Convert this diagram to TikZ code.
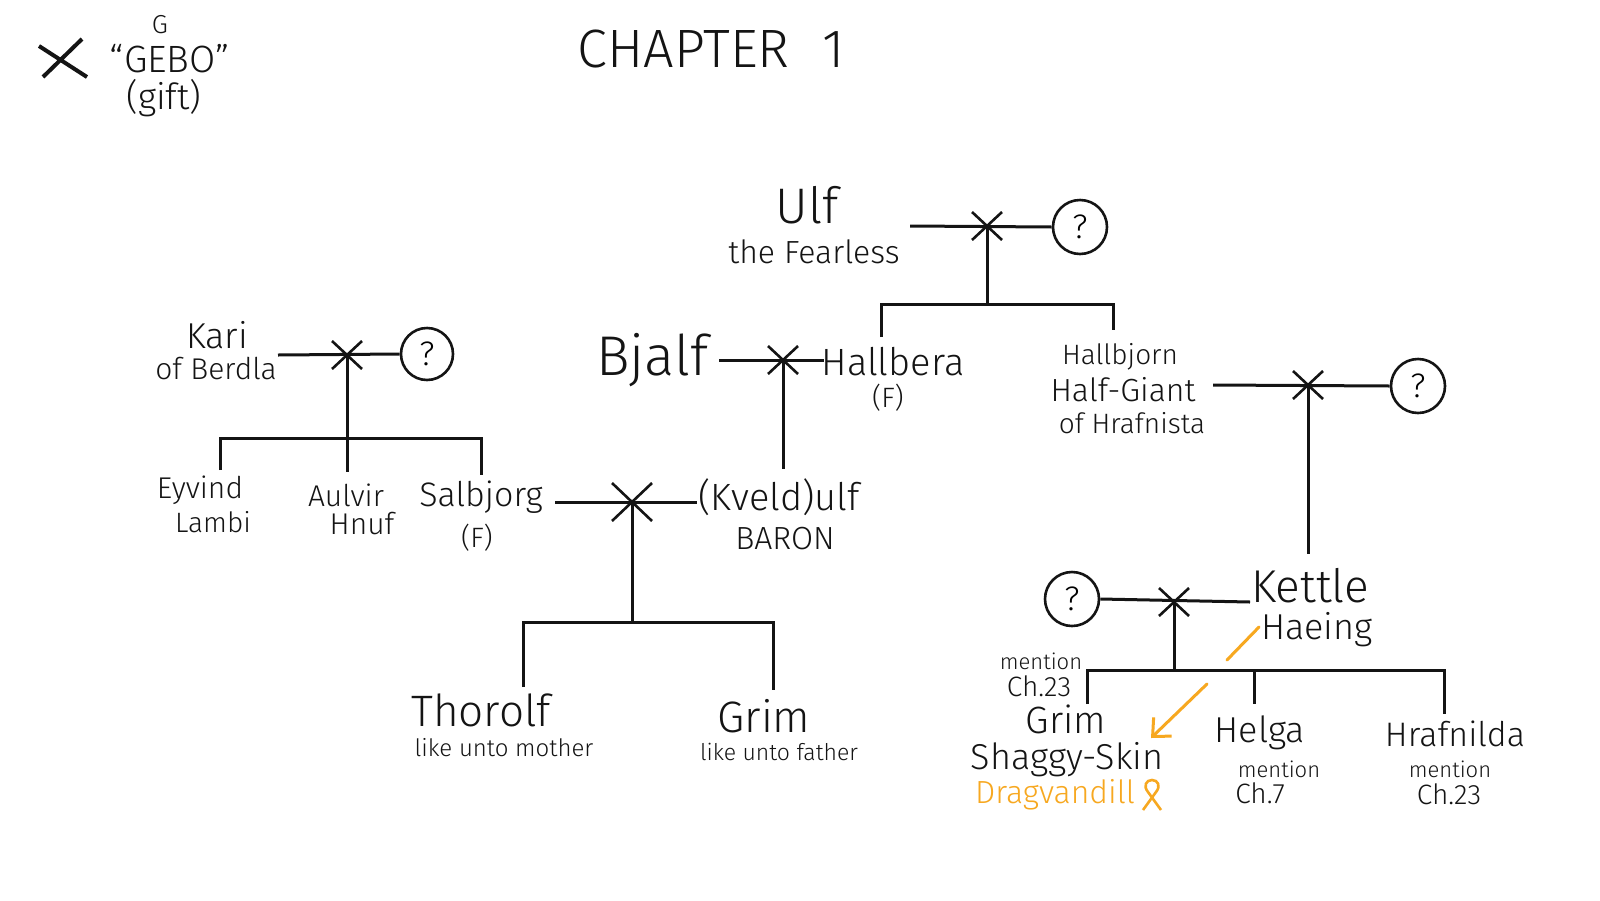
\documentclass[tikz,border=0pt]{standalone}
\usepackage{fontspec}
\setmainfont{Fira Sans Light}
\usetikzlibrary{arrows.meta}
\definecolor{ink}{RGB}{20,20,20}
\definecolor{gold}{RGB}{247,168,32}
\newcommand\myfs[1]{\fontsize{#1}{#1}\selectfont}
\begin{document}
\begin{tikzpicture}[x=0.5pt,y=-0.5pt,
  line/.style={ink,line width=1.5pt},
  lbl/.style={inner sep=0pt,anchor=center,text=ink},
  unknown/.style={circle,draw=ink,line width=1.3pt,minimum size=27pt,inner sep=0pt,font=\myfs{17}},
  gebo/.style={ink,line width=1.3pt},
  xmark/.pic={\draw[gebo] (-15,-14)--(15,14) (-15,14)--(15,-14);},
  bigxmark/.pic={\draw[gebo] (-20,-19)--(20,19) (-20,19)--(20,-19);}]
\useasboundingbox (0,0) rectangle (1600,900);
\fill[white] (0,0) rectangle (1600,900);

% legend
\draw[ink,line width=2pt] (39,46)--(87,77) (82,39)--(43,77);
\node[lbl,font=\myfs{13}] (runeG) at (160,25) {G};
\node[lbl,font=\myfs{19}] (runeName) at (170,59) {“GEBO”};
\node[lbl,font=\myfs{18}] (runeGift) at (164,98) {(gift)};

% title
\node[lbl,font=\myfs{27}] (title) at (711,49) {CHAPTER\hspace{0.6em}1};

% Ulf family
\node[lbl,font=\myfs{25}] (ulf) at (807,205) {Ulf};
\node[lbl,font=\myfs{16}] (ulfep) at (814,252) {the Fearless};
\node[unknown] (q1) at (1080,227) {?};
\coordinate (u1) at (910,226);
\coordinate (mx1) at (987,226);
\draw[line] (u1) -- (q1.west);
\pic at (mx1) {xmark};
\coordinate (b1) at (987,304);
\draw[line] (mx1) -- (b1);
\coordinate (b1l) at (881,304); \coordinate (b1r) at (1113,304);
\coordinate (d1l) at (881,337); \coordinate (d1r) at (1113,330);
\draw[line] (d1l) -- (b1l) -- (b1r) -- (d1r);

% Bjalf + Hallbera
\node[lbl,font=\myfs{28}] (bjalf) at (652,360) {Bjalf};
\node[lbl,font=\myfs{19}] (hallbera) at (893,362) {Hallbera};
\node[lbl,font=\myfs{14}] (hallberaF) at (888,398) {(F)};
\coordinate (bj1) at (719,360); \coordinate (bj2) at (824,360);
\coordinate (mx2) at (783,360);
\draw[line] (bj1) -- (bj2);
\pic at (mx2) {xmark};
\coordinate (d2) at (783,469);
\draw[line] (mx2) -- (d2);

% Hallbjorn
\node[lbl,font=\myfs{14}] (hallbjorn) at (1120,357) {Hallbjorn};
\node[lbl,font=\myfs{16}] (halfgiant) at (1123,390) {Half-Giant};
\node[lbl,font=\myfs{14}] (hrafnista) at (1132,423) {of Hrafnista};
\node[unknown] (q2) at (1418,386) {?};
\coordinate (hb1) at (1213,385);
\coordinate (mx3) at (1308,385);
\draw[line] (hb1) -- (q2.west);
\pic at (mx3) {xmark};
\coordinate (d3) at (1308,554);
\draw[line] (mx3) -- (d3);

% Kari
\node[lbl,font=\myfs{18}] (kari) at (217,335) {Kari};
\node[lbl,font=\myfs{15}] (berdla) at (216,369) {of Berdla};
\node[unknown,minimum size=26pt] (q3) at (427,354) {?};
\coordinate (k1) at (278,355);
\coordinate (mx4) at (347,355);
\draw[line] (k1) -- (q3.west);
\pic at (mx4) {xmark};
\coordinate (b4) at (347,438);
\draw[line] (mx4) -- (b4);
\coordinate (b4l) at (220,438); \coordinate (b4r) at (481,438);
\coordinate (d4l) at (220,470); \coordinate (d4r) at (481,475); \coordinate (d4m) at (347,472);
\draw[line] (d4l) -- (b4l) -- (b4r) -- (d4r);
\draw[line] (b4) -- (d4m);
\node[lbl,font=\myfs{15}] (eyvind) at (200,490) {Eyvind};
\node[lbl,font=\myfs{14}] (lambi) at (213,522) {Lambi};
\node[lbl,font=\myfs{15}] (aulvir) at (346,495) {Aulvir};
\node[lbl,font=\myfs{15}] (hnuf) at (362,524) {Hnuf};
\node[lbl,font=\myfs{17}] (salbjorg) at (481,497) {Salbjorg};
\node[lbl,font=\myfs{14}] (salbjorgF) at (477,538) {(F)};

% Salbjorg + Kveldulf
\node[lbl,font=\myfs{19}] (kveldulf) at (779,497) {(Kveld)ulf};
\node[lbl,font=\myfs{16}] (baron) at (785,539) {BARON};
\coordinate (s1) at (555,502); \coordinate (s2) at (697,502);
\coordinate (mx5) at (632,502);
\draw[line] (s1) -- (s2);
\pic at (mx5) {bigxmark};
\coordinate (b5) at (632,622);
\draw[line] (mx5) -- (b5);
\coordinate (b5l) at (523,622); \coordinate (b5r) at (773,622);
\coordinate (d5l) at (523,687); \coordinate (d5r) at (773,690);
\draw[line] (d5l) -- (b5l) -- (b5r) -- (d5r);
\node[lbl,font=\myfs{22}] (thorolf) at (481,710) {Thorolf};
\node[lbl,font=\myfs{12}] (thorolfN) at (504,748) {like unto mother};
\node[lbl,font=\myfs{22}] (grimA) at (764,716) {Grim};
\node[lbl,font=\myfs{11.5}] (grimAN) at (779,752) {like unto father};

% Kettle
\node[unknown] (q4) at (1072,599) {?};
\node[lbl,font=\myfs{23}] (kettle) at (1310,586) {Kettle};
\node[lbl,font=\myfs{18}] (haeing) at (1317,630) {Haeing};
\coordinate (ke1) at (1250,602);
\coordinate (mx6) at (1174,602);
\draw[line] (q4.east) -- (ke1);
\pic at (mx6) {xmark};
\coordinate (b6) at (1174,670);
\draw[line] (mx6) -- (b6);
\coordinate (b6l) at (1087,670); \coordinate (b6r) at (1444,670);
\coordinate (d6l) at (1087,704); \coordinate (d6r) at (1444,714);
\coordinate (b6m) at (1254,670); \coordinate (d6m) at (1254,704);
\draw[line] (d6l) -- (b6l) -- (b6r) -- (d6r);
\draw[line] (b6m) -- (d6m);
\node[lbl,font=\myfs{11}] (mentA) at (1041,661) {mention};
\node[lbl,font=\myfs{14}] (chA) at (1039,686) {Ch.23};
\node[lbl,font=\myfs{19}] (grimB) at (1066,719) {Grim};
\node[lbl,font=\myfs{18}] (shaggy) at (1067,760) {Shaggy-Skin};
\node[lbl,font=\myfs{16},text=gold] (drag) at (1055,795) {Dragvandill};
\draw[gold,line width=1.3pt,shift={(1152,796)}] (-9,14) -- (4,-4) .. controls (9,-10) and (6,-16) .. (0,-16) .. controls (-6,-16) and (-9,-10) .. (-4,-4) -- (9,14);
\node[lbl,font=\myfs{18}] (helga) at (1260,733) {Helga};
\node[lbl,font=\myfs{11}] (mentB) at (1279,769) {mention};
\node[lbl,font=\myfs{14}] (chB) at (1260,793) {Ch.7};
\node[lbl,font=\myfs{17}] (hrafnilda) at (1455,734) {Hrafnilda};
\node[lbl,font=\myfs{11}] (mentC) at (1450,769) {mention};
\node[lbl,font=\myfs{14}] (chC) at (1449,794) {Ch.23};

% orange marks
\coordinate (o1) at (1227,660); \coordinate (o2) at (1259,627);
\draw[gold,line width=1.5pt,line cap=round] (o1) -- (o2);
\coordinate (o3) at (1207,684); \coordinate (o4) at (1151,738);
\draw[gold,line width=1.5pt,line cap=round,-{Straight Barb[length=7pt,width=13pt]}] (o3) -- (o4);
\end{tikzpicture}
\end{document}
